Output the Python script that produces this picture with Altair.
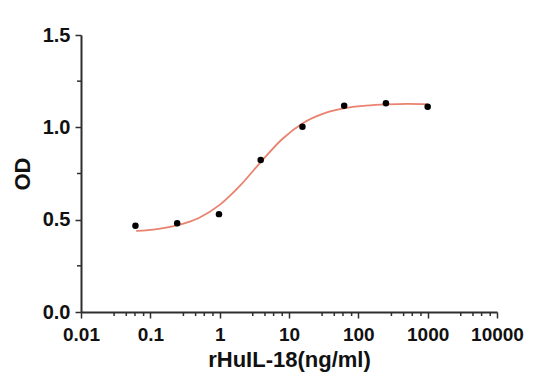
import altair as alt
import pandas as pd

# Measured points (4-fold dilution series)
conc = [1000, 250, 62.5, 15.625, 3.906, 0.977, 0.244, 0.061]
od = [1.112, 1.13, 1.117, 1.003, 0.823, 0.53, 0.48, 0.467]

# Fitted curve, read along its length
fit_x = [0.0625, 0.125, 0.25, 0.5, 1, 2, 4, 8, 16, 32, 64, 128, 256, 512, 1000]
fit_y = [0.439, 0.449, 0.470, 0.509, 0.580, 0.687, 0.816, 0.937, 1.024, 1.076,
         1.104, 1.117, 1.124, 1.127, 1.125]

x_major = [0.01, 0.1, 1, 10, 100, 1000, 10000]
x_minor = [0.03, 0.045, 0.06, 0.08, 0.3, 0.45, 0.6, 0.8, 3, 4.5, 6, 8,
           30, 45, 60, 80, 300, 450, 600, 800, 3000, 4500, 6000, 8000]
y_major = [0.0, 0.5, 1.0, 1.5]
y_minor = [0.25, 0.75, 1.25]

FONT = "Liberation Sans"
AX = "#2e2e2e"

pts = pd.DataFrame({"conc": conc, "od": od})
fit = pd.DataFrame({"conc": fit_x, "od": fit_y})
xm = pd.DataFrame({"conc": x_minor})
ym = pd.DataFrame({"od": y_minor})

xscale = alt.Scale(type="log", domain=[0.01, 10000], nice=False)
yscale = alt.Scale(domain=[0, 1.5], nice=False, zero=False)

xaxis = alt.Axis(values=x_major, format="~g", title="rHuIL-18(ng/ml)",
                 grid=False, tickSize=6, tickWidth=1.5, tickColor=AX,
                 domainColor=AX, domainWidth=2, labelPadding=7,
                 labelFont=FONT, labelFontSize=19, labelFontWeight="bold",
                 labelColor="#111", titleFont=FONT, titleFontSize=22,
                 titleFontWeight="bold", titleColor="#111", titlePadding=5,
                 labelFlush=False, labelOverlap=False)
yaxis = alt.Axis(values=y_major, format=".1f", title="OD",
                 grid=False, tickSize=6, tickWidth=1.5, tickColor=AX,
                 domainColor=AX, domainWidth=2, labelPadding=5,
                 labelFont=FONT, labelFontSize=20, labelFontWeight="bold",
                 labelColor="#111", titleFont=FONT, titleFontSize=22,
                 titleFontWeight="bold", titleColor="#111", titlePadding=8,
                 labelFlush=False, labelOverlap=False)

line = alt.Chart(fit).mark_line(color="#E9826E", strokeWidth=1.8,
                                interpolate="monotone").encode(
    x=alt.X("conc:Q", scale=xscale, axis=xaxis),
    y=alt.Y("od:Q", scale=yscale, axis=yaxis),
)

points = alt.Chart(pts).mark_circle(color="black", size=42, opacity=1).encode(
    x=alt.X("conc:Q", scale=xscale),
    y=alt.Y("od:Q", scale=yscale),
)

xminor = alt.Chart(xm).mark_rule(color=AX, strokeWidth=1.5).encode(
    x=alt.X("conc:Q", scale=xscale),
    y=alt.value(277),
    y2=alt.value(281),
)

yminor = alt.Chart(ym).mark_rule(color=AX, strokeWidth=1.5).encode(
    y=alt.Y("od:Q", scale=yscale),
    x=alt.value(-4),
    x2=alt.value(0),
)

chart = alt.layer(line, xminor, yminor, points).properties(
    width=416, height=277,
    background="white",
    autosize=alt.AutoSizeParams(type="none"),
    padding={"left": 73, "top": 27, "right": 40, "bottom": 68},
).configure_view(strokeWidth=0)

chart.save("out.html", embed_options={"renderer": "svg", "actions": False})
